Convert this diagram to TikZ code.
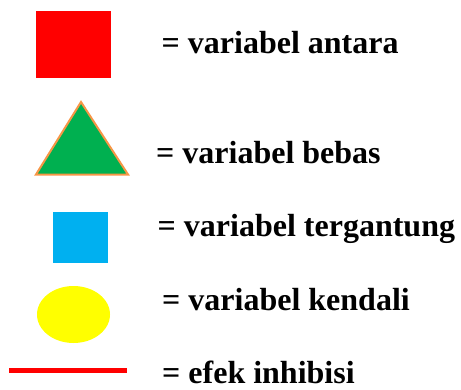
\documentclass[tikz,border=0pt]{standalone}
\usepackage{fontspec}
\setmainfont{Liberation Serif}
\usetikzlibrary{shapes.geometric}
\definecolor{antara}{HTML}{FF0000}
\definecolor{bebas}{HTML}{00B050}
\definecolor{bebasrim}{HTML}{F79646}
\definecolor{tergantung}{HTML}{00B0F0}
\definecolor{kendali}{HTML}{FFFF00}
\begin{document}
\begin{tikzpicture}[
  x=1pt, y=-1pt,
  sym/.style={inner sep=0pt, outer sep=0pt, draw=none},
  lbl/.style={anchor=base west, inner sep=0pt, font=\fontsize{32}{36}\selectfont\bfseries},
  inhib/.style={line width=5pt, draw=antara}
]
\useasboundingbox (0,0) rectangle (461,389);

\node[sym, rectangle, fill=antara, minimum width=75pt, minimum height=67pt] (va) at (73.5,44.5) {};
\filldraw[fill=bebas, draw=bebasrim, line width=2pt] (81,102) -- (128,174.5) -- (36,174.5) -- cycle;
\coordinate (vb) at (81,150);
\node[sym, rectangle, fill=tergantung, minimum width=55pt, minimum height=51pt] (vt) at (80.5,237.5) {};
\node[sym, ellipse, fill=kendali, minimum width=73pt, minimum height=57pt] (vk) at (73.5,314.5) {};
\coordinate (ia) at (9,370.5);
\coordinate (ib) at (127,370.5);
\draw[inhib] (ia) -- (ib);

\node[lbl] (la) at (161.5,53.5) {= variabel antara};
\node[lbl] (lb) at (156,163.5) {= variabel bebas};
\node[lbl] (lt) at (157.5,236.5) {= variabel tergantung};
\node[lbl] (lk) at (162,310) {= variabel kendali};
\node[lbl] (li) at (162,383.5) {= efek inhibisi};
\end{tikzpicture}
\end{document}
